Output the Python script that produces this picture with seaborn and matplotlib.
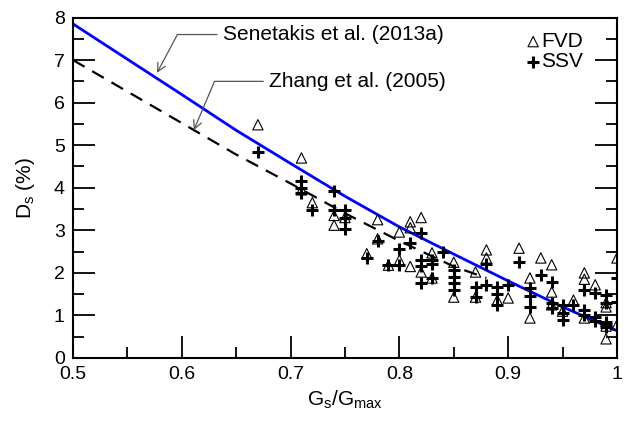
import matplotlib
matplotlib.use("Agg")
import matplotlib.pyplot as plt
from matplotlib.ticker import MultipleLocator
import pandas as pd
import seaborn as sns

# curves
sen_x = [0.5, 0.55, 0.6, 0.65, 0.7, 0.75, 0.8, 0.85, 0.9, 0.95, 1.0]
sen_y = [7.85, 7.02, 6.19, 5.35, 4.57, 3.8, 3.08, 2.44, 1.81, 1.2, 0.64]
zh_x = [0.5, 0.55, 0.6, 0.65, 0.7, 0.75, 0.8, 0.85, 0.88]
zh_y = [7.0, 6.26, 5.52, 4.78, 4.1, 3.4, 2.75, 2.15, 1.88]

# FVD (open triangles)
fvd_x = [0.67, 0.71, 0.71, 0.72, 0.74, 0.74, 0.75, 0.78, 0.78, 0.77, 0.80, 0.81,
         0.82, 0.81, 0.79, 0.80, 0.81, 0.82, 0.83, 0.83, 0.85, 0.85, 0.87, 0.87,
         0.88, 0.88, 0.89, 0.90, 0.91, 0.92, 0.92, 0.93, 0.94, 0.94, 0.94, 0.95,
         0.96, 0.97, 0.97, 0.97, 0.98, 0.99, 0.99, 0.99, 0.99, 1.0, 1.0]
fvd_y = [5.48, 4.7, 3.95, 3.65, 3.35, 3.12, 3.3, 3.25, 2.8, 2.45, 2.96, 3.2,
         3.3, 3.06, 2.18, 2.3, 2.15, 2.02, 2.47, 1.88, 2.25, 1.43, 2.02, 1.43,
         2.54, 2.35, 1.36, 1.41, 2.58, 1.88, 0.94, 2.35, 2.19, 1.55, 1.25, 1.1,
         1.36, 2.0, 1.85, 0.94, 1.72, 1.3, 1.2, 0.45, 0.75, 2.35, 0.78]

# SSV (bold plus)
ssv_x = [0.67, 0.71, 0.71, 0.71, 0.72, 0.74, 0.74, 0.75, 0.75, 0.75, 0.78, 0.77,
         0.79, 0.80, 0.80, 0.81, 0.82, 0.82, 0.82, 0.82, 0.83, 0.83, 0.83, 0.84,
         0.85, 0.85, 0.85, 0.85, 0.87, 0.87, 0.88, 0.88, 0.89, 0.89, 0.89, 0.90,
         0.91, 0.92, 0.92, 0.92, 0.93, 0.94, 0.94, 0.94, 0.95, 0.95, 0.95, 0.96,
         0.97, 0.97, 0.97, 0.98, 0.98, 0.98, 0.99, 0.99, 0.99, 0.99, 0.99, 1.0, 1.0]
ssv_y = [4.83, 4.15, 4.0, 3.88, 3.48, 3.92, 3.48, 3.48, 3.3, 3.02, 2.75, 2.35,
         2.18, 2.18, 2.55, 2.7, 2.93, 2.3, 2.15, 1.77, 2.3, 2.2, 1.88, 2.5,
         2.07, 1.9, 1.76, 1.6, 1.67, 1.43, 2.2, 1.72, 1.67, 1.5, 1.25, 1.72,
         2.26, 1.65, 1.45, 1.2, 1.95, 1.79, 1.3, 1.18, 1.25, 1.05, 0.9, 1.25,
         1.6, 1.13, 1.0, 1.53, 0.96, 0.88, 1.48, 1.3, 0.85, 0.78, 0.72, 1.88, 1.32]

plt.rcParams['font.family'] = ['Liberation Sans', 'DejaVu Sans']
plt.rcParams['mathtext.fontset'] = 'custom'
plt.rcParams['mathtext.rm'] = 'Liberation Sans'
plt.rcParams['mathtext.it'] = 'Liberation Sans'

fig, ax = plt.subplots(figsize=(6.27, 4.23), dpi=100)
fig.subplots_adjust(left=0.1164, right=0.984, bottom=0.1537, top=0.9586)

sen = pd.DataFrame({'x': sen_x, 'y': sen_y})
zh = pd.DataFrame({'x': zh_x, 'y': zh_y})
sns.lineplot(data=sen, x='x', y='y', ax=ax, color='#0000ff', lw=2.0, sort=False)
sns.lineplot(data=zh, x='x', y='y', ax=ax, color='black', lw=1.6, sort=False,
             linestyle=(0, (6, 4)))

fvd = pd.DataFrame({'x': fvd_x, 'y': fvd_y})
ssv = pd.DataFrame({'x': ssv_x, 'y': ssv_y})
sns.scatterplot(data=fvd, x='x', y='y', ax=ax, marker='^', s=55,
                facecolors='none', edgecolor='black', linewidth=0.8,
                label='FVD', zorder=3)
sns.scatterplot(data=ssv, x='x', y='y', ax=ax, marker='+', s=70,
                color='black', linewidth=2.2, label='SSV', zorder=4)

ax.set_xlim(0.5, 1.0)
ax.set_ylim(0, 8)
ax.set_xticks([0.5, 0.6, 0.7, 0.8, 0.9, 1.0])
ax.set_xticklabels(['0.5', '0.6', '0.7', '0.8', '0.9', '1'])
ax.xaxis.set_minor_locator(MultipleLocator(0.05))
ax.yaxis.set_major_locator(MultipleLocator(1))
ax.yaxis.set_minor_locator(MultipleLocator(0.5))
ax.tick_params(which='major', direction='in', length=16, width=1.3,
               color='black', labelsize=14, right=True, top=False, pad=6)
ax.tick_params(which='minor', direction='in', length=8, width=1.3,
               color='black', right=True, top=False)
for sp in ax.spines.values():
    sp.set_linewidth(1.5)
    sp.set_color('black')

ax.set_xlabel('G$_\\mathregular{s}$/G$_\\mathregular{max}$', fontsize=15, labelpad=4)
ax.set_ylabel('D$_\\mathregular{s}$ (%)', fontsize=15, labelpad=12)

ax.annotate('Senetakis et al. (2013a)', xy=(0.576, 6.64), xytext=(0.6375, 7.6),
            fontsize=15, ha='left', va='center',
            arrowprops=dict(arrowstyle='->', color='#555555', lw=0.9,
                            connectionstyle='angle,angleA=0,angleB=62,rad=0'))
ax.annotate('Zhang et al. (2005)', xy=(0.61, 5.29), xytext=(0.68, 6.5),
            fontsize=15, ha='left', va='center',
            arrowprops=dict(arrowstyle='->', color='#555555', lw=0.9,
                            connectionstyle='angle,angleA=0,angleB=67,rad=0'))

ax.legend(loc='upper right', bbox_to_anchor=(0.965, 1.0), frameon=False,
          fontsize=15, handletextpad=-0.2, handlelength=1.2,
          borderpad=0.2, labelspacing=0.05, markerscale=1.0)

fig.savefig('out.png', dpi=100)
